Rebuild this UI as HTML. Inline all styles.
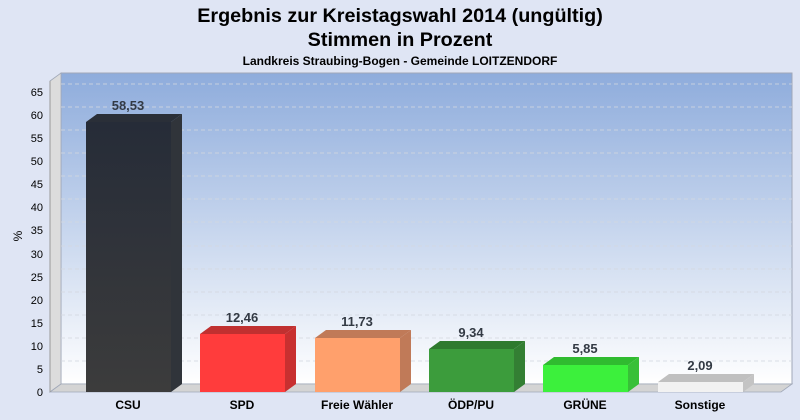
<!DOCTYPE html>
<html><head><meta charset="utf-8"><style>body{margin:0}svg{display:block;font-family:"Liberation Sans",sans-serif}</style></head><body>
<svg width="800" height="420" xmlns="http://www.w3.org/2000/svg">
<defs>
<linearGradient id="wall" x1="0" y1="0" x2="0" y2="1"><stop offset="0" stop-color="#8eacdc"/><stop offset="1" stop-color="#ffffff"/></linearGradient>
<linearGradient id="csu" x1="0" y1="0" x2="0" y2="1"><stop offset="0" stop-color="#262c38"/><stop offset="1" stop-color="#3c3c3c"/></linearGradient>
</defs>
<rect width="800" height="420" fill="#dfe5f4"/>
<text x="400" y="22" text-anchor="middle" font-size="19.8" font-weight="bold">Ergebnis zur Kreistagswahl 2014 (ungültig)</text>
<text x="400" y="46" text-anchor="middle" font-size="19.8" font-weight="bold">Stimmen in Prozent</text>
<text x="400" y="65" text-anchor="middle" font-size="12" font-weight="bold">Landkreis Straubing-Bogen - Gemeinde LOITZENDORF</text>
<rect x="61" y="73" width="731" height="311" fill="url(#wall)" stroke="#a0a8b8" stroke-width="1"/>
<polygon points="50,81 61,73 61,384 50,392" fill="#dcdcdc" stroke="#a0a8b8" stroke-width="0.8"/>
<polygon points="50,392 61,384 792,384 781,392" fill="#d4d4d4" stroke="#a0a8b8" stroke-width="0.8"/>
<g stroke="#d4d8e0" stroke-dasharray="4,3" stroke-width="1" opacity="0.8">
<line x1="61" x2="792" y1="361" y2="361"/><line x1="61" x2="792" y1="338" y2="338"/><line x1="61" x2="792" y1="315" y2="315"/><line x1="61" x2="792" y1="292" y2="292"/><line x1="61" x2="792" y1="269" y2="269"/><line x1="61" x2="792" y1="246" y2="246"/><line x1="61" x2="792" y1="222" y2="222"/><line x1="61" x2="792" y1="199" y2="199"/><line x1="61" x2="792" y1="176" y2="176"/><line x1="61" x2="792" y1="153" y2="153"/><line x1="61" x2="792" y1="130" y2="130"/><line x1="61" x2="792" y1="107" y2="107"/><line x1="61" x2="792" y1="84" y2="84"/>
</g>
<line x1="50" y1="81" x2="50" y2="392" stroke="#999"/>
<g font-size="11" text-anchor="end" fill="#000">
<text x="43" y="396">0</text><text x="43" y="373">5</text><text x="43" y="350">10</text><text x="43" y="327">15</text><text x="43" y="304">20</text><text x="43" y="281">25</text><text x="43" y="258">30</text><text x="43" y="234">35</text><text x="43" y="211">40</text><text x="43" y="188">45</text><text x="43" y="165">50</text><text x="43" y="142">55</text><text x="43" y="119">60</text><text x="43" y="96">65</text>
</g>
<text transform="translate(22,236) rotate(-90)" font-size="12" text-anchor="middle">%</text>
<g>
<polygon points="86,122 97,114 182,114 171,122" fill="#2a2f38"/><polygon points="171,122 182,114 182,384 171,392" fill="#30343a"/><rect x="86" y="122" width="85" height="270" fill="url(#csu)"/>
<polygon points="200,334 211,326 296,326 285,334" fill="#c03030"/><polygon points="285,334 296,326 296,384 285,392" fill="#c83030"/><rect x="200" y="334" width="85" height="58" fill="#ff3c3c"/>
<polygon points="315,338 326,330 411,330 400,338" fill="#c07a58"/><polygon points="400,338 411,330 411,384 400,392" fill="#c07a58"/><rect x="315" y="338" width="85" height="54" fill="#ffa06c"/>
<polygon points="429,349 440,341 525,341 514,349" fill="#2e7a2e"/><polygon points="514,349 525,341 525,384 514,392" fill="#337f33"/><rect x="429" y="349" width="85" height="43" fill="#3c9c3c"/>
<polygon points="543,365 554,357 639,357 628,365" fill="#30bb30"/><polygon points="628,365 639,357 639,384 628,392" fill="#38c038"/><rect x="543" y="365" width="85" height="27" fill="#3cf03c"/>
<polygon points="658,382 669,374 754,374 743,382" fill="#c0c0c0"/><polygon points="743,382 754,374 754,384 743,392" fill="#c4c4c4"/><rect x="658" y="382" width="85" height="10" fill="#f2f2f2"/>
</g>
<g font-size="13" font-weight="bold" text-anchor="middle" fill="#333a44">
<text x="128" y="110">58,53</text><text x="242" y="322">12,46</text><text x="357" y="326">11,73</text><text x="471" y="337">9,34</text><text x="585" y="353">5,85</text><text x="700" y="370">2,09</text>
</g>
<g font-size="12" font-weight="bold" text-anchor="middle">
<text x="128" y="409">CSU</text><text x="242" y="409">SPD</text><text x="357" y="409">Freie Wähler</text><text x="471" y="409">ÖDP/PU</text><text x="585" y="409">GRÜNE</text><text x="700" y="409">Sonstige</text>
</g>
</svg>
</body></html>
